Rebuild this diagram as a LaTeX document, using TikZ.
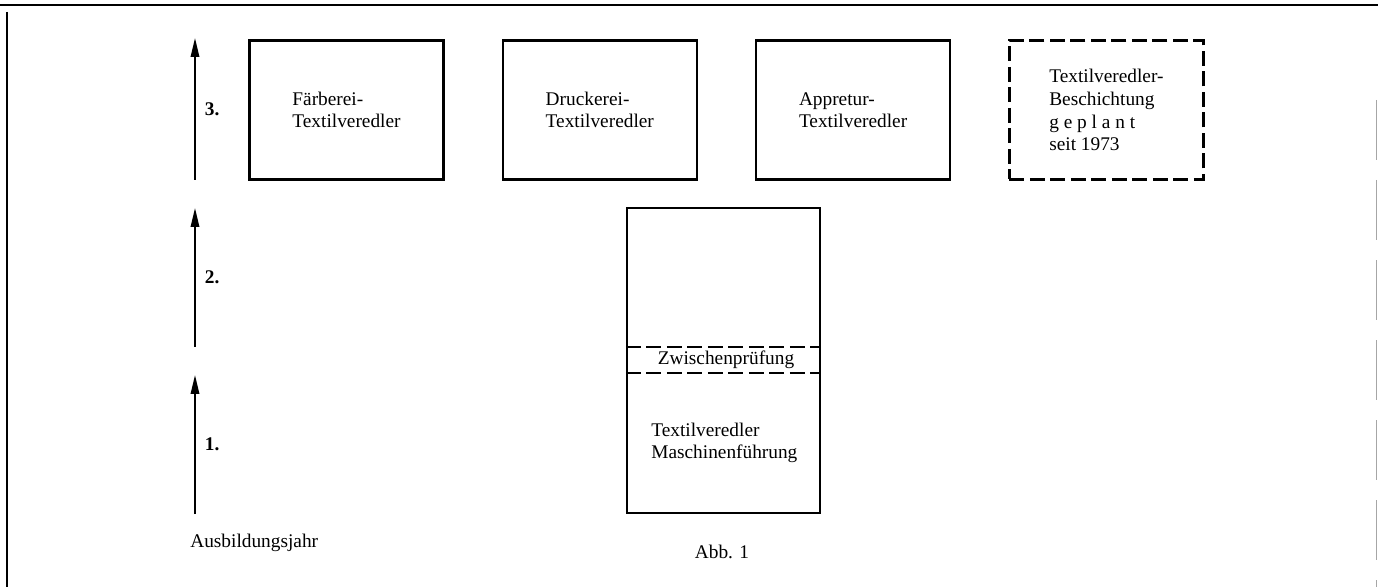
\documentclass[tikz,border=0pt]{standalone}
\usepackage{fontspec}
\setmainfont{Liberation Serif}
\usetikzlibrary{arrows.meta,positioning}
\tikzset{
  >={Triangle[length=3.8mm,width=1.7mm]},
  % Berufe
  beruf/.style={draw,line width=1.3pt,minimum width=38.8mm,minimum height=27.8mm,
                align=left,inner sep=0pt,font=\fontsize{11}{12.5}\selectfont},
  plan/.style={beruf,dash pattern=on 3mm off 1.1mm},
  grundstufe/.style={draw,line width=1.3pt,minimum width=38.6mm,minimum height=61mm,inner sep=0pt},
  zp/.style={minimum height=5.2mm,inner sep=0pt,font=\fontsize{11}{12.5}\selectfont},
  zpline/.style={line width=1.3pt,dash pattern=on 3mm off 1.1mm},
  txt/.style={align=left,inner sep=0pt,font=\fontsize{11}{12.5}\selectfont},
  % Jahre
  jahr/.style={->,line width=1pt},
  jl/.style={anchor=west,inner sep=0pt,font=\fontsize{11}{12}\selectfont\bfseries},
  rahmen/.style={line width=1.4pt},
}

\begin{document}
\begin{tikzpicture}[x=0.2mm,y=-0.2mm]
\useasboundingbox (0,0) rectangle (1378,587);
  % Rahmen
  \draw[rahmen] (0,5) -- (1378,5);
  \draw[rahmen] (7,12) -- (7,587);
  \draw[black!35,line width=0.5pt,dash pattern=on 12mm off 4mm] (1376,100) -- (1376,587);
  % Ausbildungsjahre
  \coordinate (j1a) at (195,514);
  \coordinate (j1b) at (195,375);
  \coordinate (j2a) at (195,347);
  \coordinate (j2b) at (195,208);
  \coordinate (j3a) at (195,180);
  \coordinate (j3b) at (195,38);
  \draw[jahr] (j1a) -- node[jl,right=1.8mm] (l1) {1.} (j1b);
  \draw[jahr] (j2a) -- node[jl,right=1.8mm] (l2) {2.} (j2b);
  \draw[jahr] (j3a) -- node[jl,right=1.8mm] (l3) {3.} (j3b);
  \node[txt,anchor=west] (ausb) at (190,543) {Ausbildungsjahr};
  % 3. Jahr
  \node[beruf] (faerb) at (346.5,110) {Färberei-\\Textilveredler};
  \node[beruf,right=11.4mm of faerb] (druck) {Druckerei-\\Textilveredler};
  \node[beruf,right=11.4mm of druck] (appr) {Appretur-\\Textilveredler};
  \node[plan,right=11.4mm of appr,font=\fontsize{11}{13}\selectfont] (besch)
    {Textilveredler-\\Beschichtung\\g e p l a n t\\seit 1973};
  % 1./2. Jahr
  \node[grundstufe] (grund) at (723.5,360.5) {};
  \node[zp] (zwp) at (726,360) {Zwischenprüfung};
  \draw[zpline] (grund.west |- zwp.north) -- (grund.east |- zwp.north);
  \draw[zpline] (grund.west |- zwp.south) -- (grund.east |- zwp.south);
  \node[txt,anchor=west] (masch) at (651,443) {Textilveredler\\Maschinenführung};
  \node[txt] (abb) at (722,552) {Abb. 1};
\end{tikzpicture}
\end{document}
